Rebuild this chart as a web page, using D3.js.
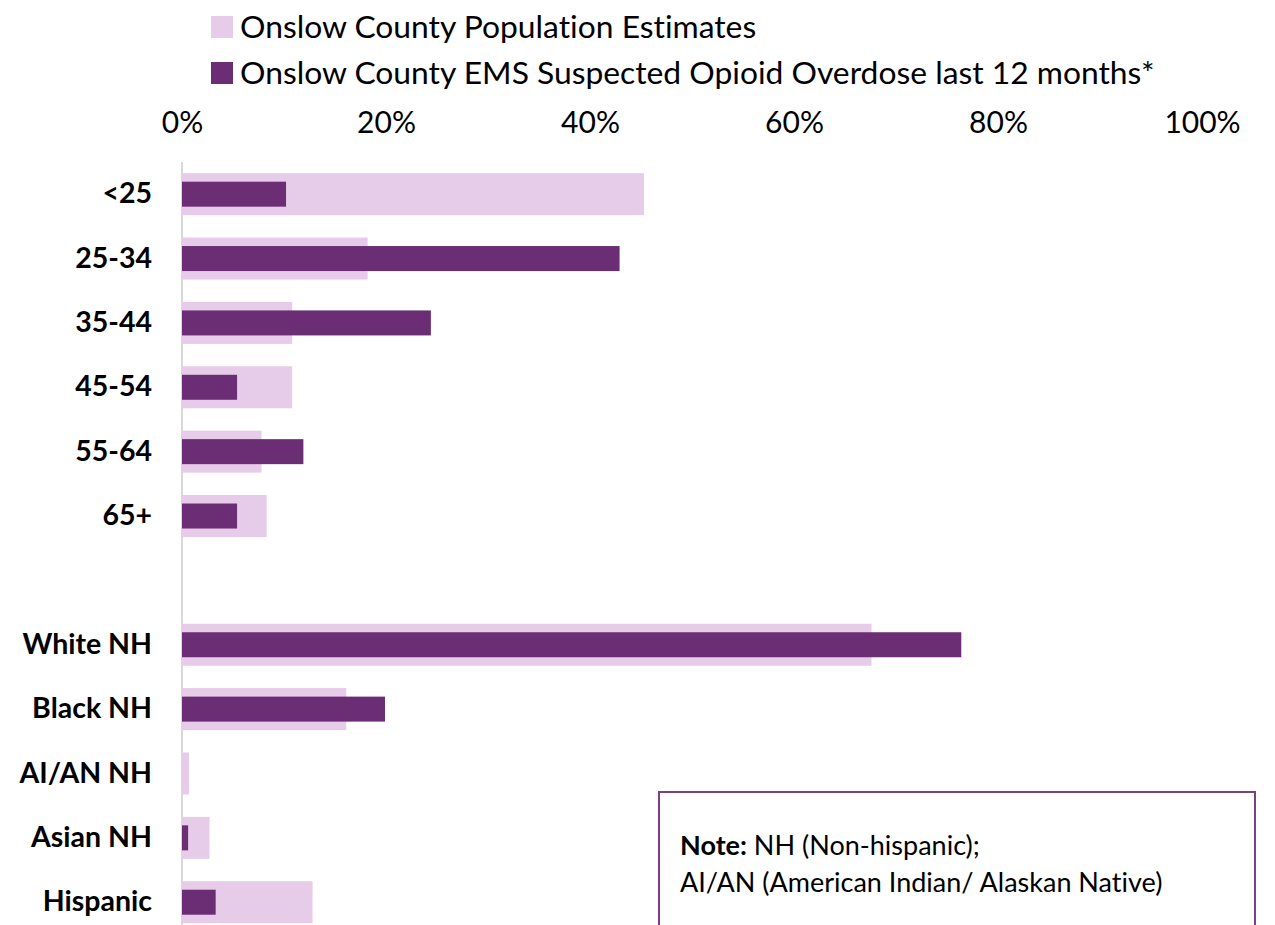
<!DOCTYPE html>
<html>
<head>
<meta charset="utf-8">
<script src="https://cdn.jsdelivr.net/npm/d3@7"></script>
<style>
  body { margin: 0; background: #fff; }
  svg { display: block; font-family: Lato, "Open Sans", sans-serif; font-variant-ligatures: none; }
</style>
</head>
<body>
<svg id="chart"></svg>
<script>
// data (percent), "" is the gap row between age and race groups
const categories = ["<25", "25-34", "35-44", "45-54", "55-64", "65+", "", "White NH", "Black NH", "AI/AN NH", "Asian NH", "Hispanic"];
const popEstimates = [45.3, 18.2, 10.8, 10.8, 7.8, 8.3, null, 67.6, 16.1, 0.7, 2.7, 12.8];
const emsOverdose = [10.2, 42.9, 24.4, 5.4, 11.9, 5.4, null, 76.4, 19.9, 0, 0.6, 3.3];
const tickValues = [0, 20, 40, 60, 80, 100];
const seriesNames = ["Onslow County Population Estimates", "Onslow County EMS Suspected Opioid Overdose last 12 months*"];

const width = 1275, height = 925;
const lightColor = "#e7cce9", darkColor = "#6b2d73";

const svg = d3.select("#chart").attr("width", width).attr("height", height);

// scales
const x = d3.scaleLinear().domain([0, 100]).range([182, 1202]);
const y = d3.scaleBand().domain(categories).range([162, 934.4]).padding(0);

// top axis labels (no line / ticks)
const xAxis = svg.append("g")
    .attr("transform", "translate(0,133)")
    .call(d3.axisTop(x).tickValues(tickValues).tickFormat(d => d + "%").tickSize(0).tickPadding(0));
xAxis.select(".domain").remove();
xAxis.selectAll("text")
    .attr("font-family", "Lato, sans-serif")
    .attr("font-size", 30)
    .attr("fill", "#000");

// vertical baseline
svg.append("line")
    .attr("x1", x(0)).attr("x2", x(0))
    .attr("y1", 162).attr("y2", height)
    .attr("stroke", "#d9d9d9").attr("stroke-width", 2);

const rows = categories.map((c, i) => ({ cat: c, pop: popEstimates[i], ems: emsOverdose[i] }))
    .filter(d => d.cat !== "");

const popH = 42, emsH = 25;

// population bars (wide, light)
svg.append("g").selectAll("rect")
    .data(rows)
    .join("rect")
    .attr("x", x(0))
    .attr("y", d => y(d.cat) + y.bandwidth() / 2 - popH / 2)
    .attr("width", d => x(d.pop) - x(0))
    .attr("height", popH)
    .attr("fill", lightColor);

// EMS bars (narrow, dark)
svg.append("g").selectAll("rect")
    .data(rows.filter(d => d.ems > 0))
    .join("rect")
    .attr("x", x(0))
    .attr("y", d => y(d.cat) + y.bandwidth() / 2 - emsH / 2)
    .attr("width", d => x(d.ems) - x(0))
    .attr("height", emsH)
    .attr("fill", darkColor);

// category labels
const yAxis = svg.append("g")
    .attr("transform", "translate(152,0)")
    .call(d3.axisLeft(y).tickSize(0).tickPadding(0));
yAxis.select(".domain").remove();
yAxis.selectAll("text")
    .attr("font-family", "Lato, sans-serif")
    .attr("font-size", 28.5)
    .attr("font-weight", "bold")
    .attr("fill", "#000");

// legend
const legend = svg.append("g");
seriesNames.forEach((name, i) => {
    const ly = 27 + i * 46;
    legend.append("rect")
        .attr("x", 211).attr("y", ly - 11)
        .attr("width", 22).attr("height", 22)
        .attr("fill", i === 0 ? lightColor : darkColor);
    legend.append("text")
        .attr("x", 240).attr("y", ly)
        .attr("dy", "0.35em")
        .attr("font-size", 31.8)
        .attr("fill", "#000")
        .text(name);
});

// note box
svg.append("rect")
    .attr("x", 659).attr("y", 792)
    .attr("width", 596).attr("height", 160)
    .attr("fill", "#fff")
    .attr("stroke", "#7b3f87").attr("stroke-width", 2);

const note = svg.append("text")
    .attr("x", 680).attr("y", 855)
    .attr("font-size", 27)
    .attr("fill", "#000");
note.append("tspan").attr("font-weight", "bold").text("Note:");
note.append("tspan").text(" NH (Non-hispanic);");
svg.append("text")
    .attr("x", 680).attr("y", 892)
    .attr("font-size", 27)
    .attr("fill", "#000")
    .text("AI/AN (American Indian/ Alaskan Native)");
</script>
</body>
</html>
